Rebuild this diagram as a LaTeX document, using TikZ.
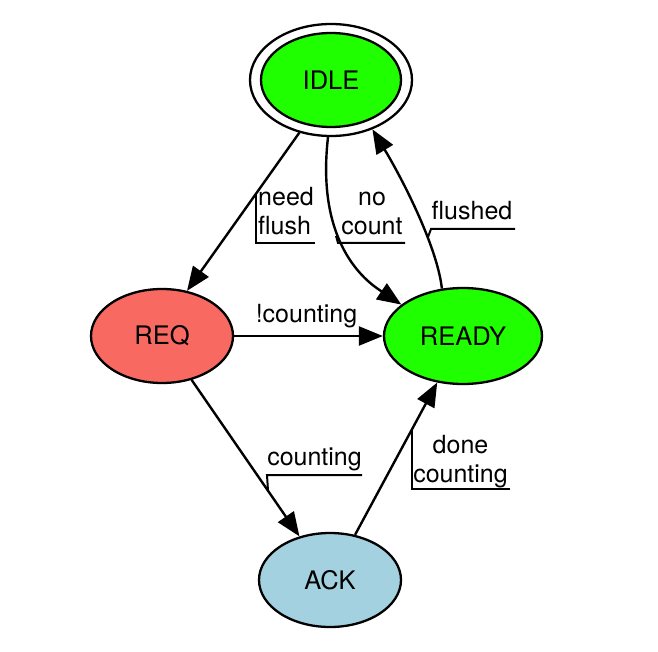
\documentclass[tikz,border=0pt]{standalone}
\usepackage{fontspec}
\setmainfont{TeX Gyre Heros}
\usetikzlibrary{shapes.geometric,arrows.meta}
\definecolor{stgreen}{RGB}{32,255,0}
\definecolor{streq}{RGB}{248,106,97}
\definecolor{stack}{RGB}{163,209,223}
\begin{document}
\begin{tikzpicture}[x=1pt,y=-1pt,
  state/.style={ellipse, draw, line width=2.3pt, inner sep=0pt, font=\fontsize{25.5}{30}\selectfont},
  edge/.style={line width=2.4pt, -{Triangle[length=24pt,width=19pt]}},
  deco/.style={line width=2pt},
  lbl/.style={inner sep=0pt, font=\fontsize{25}{29}\selectfont}]
\useasboundingbox (0,0) rectangle (658,652);
% nodes
\node[state, fill=white, minimum width=162pt, minimum height=112pt] (idle) at (331,80) {};
\node[state, fill=stgreen, minimum width=140pt, minimum height=94pt] (idlein) at (331,80) {IDLE};
\node[state, fill=streq, minimum width=142pt, minimum height=94pt] (req) at (162,336) {REQ};
\node[state, fill=stgreen, minimum width=158pt, minimum height=96pt] (ready) at (463,336) {READY};
\node[state, fill=stack, minimum width=142pt, minimum height=94pt] (ack) at (330,580) {ACK};
% edges
\draw[edge] (idle.239) -- (req.61);
\draw[edge] (idle.267) .. controls (315,250) and (372,285) .. (ready.153);
\draw[edge] (ready.114) .. controls (437,245) and (400,175) .. (idle.310);
\draw[edge] (req.east) -- (ready.west);
\draw[edge] (req.-56) -- (ack.125);
\draw[edge] (ack.61) -- (ready.241);
% labels
\node[lbl, anchor=base west] (lneed) at (258,235) {\begin{tabular}[b]{@{}l@{}}need\\flush\end{tabular}};
\node[lbl, anchor=base] (lno) at (372,235) {\begin{tabular}[b]{@{}c@{}}no\\count\end{tabular}};
\node[lbl, anchor=base] (lflushed) at (472,220) {flushed};
\node[lbl, anchor=base] (lnotcount) at (306.5,322) {!counting};
\node[lbl, anchor=base] (lcount) at (314.5,465) {counting};
\node[lbl, anchor=base] (ldone) at (460.5,482) {\begin{tabular}[b]{@{}c@{}}done\\counting\end{tabular}};
% label decorations
\draw[deco] (256,194) -- (256,243) -- (315,243);
\draw[deco] (336,236) -- (338,243) -- (405,243);
\draw[deco] (428,237) -- (431,229) -- (515,229);
\draw[deco] (268,491) -- (267,475) -- (362,475);
\draw[deco] (412,429) -- (412,489) -- (510,489);
\end{tikzpicture}
\end{document}
